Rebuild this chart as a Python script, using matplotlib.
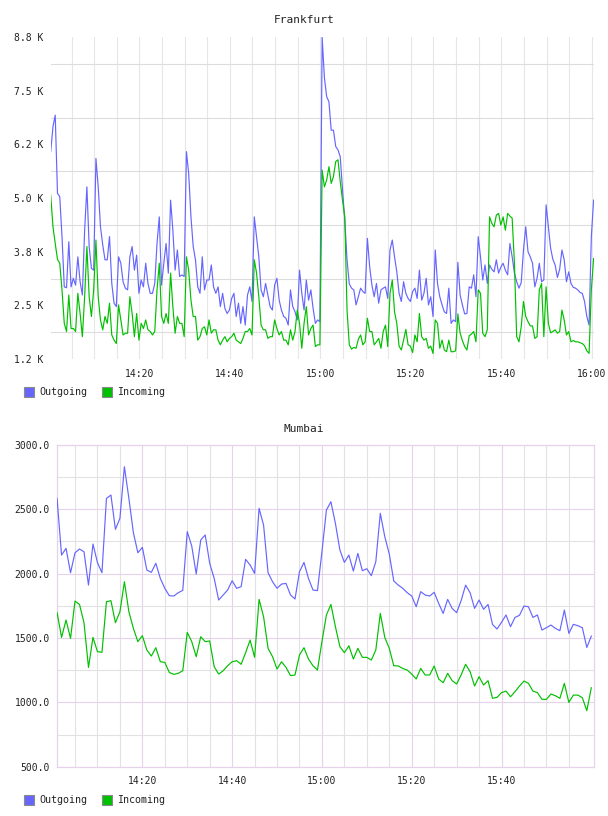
import numpy as np
import matplotlib
matplotlib.use('Agg')
import matplotlib.pyplot as plt
from matplotlib.patches import Rectangle

plt.rcParams['font.family'] = ['DejaVu Sans Mono']

blue = '#6666ff'
green = '#00c000'
grid_grey = '#e2e2e2'
grid_pink = '#e6d2ea'
text_col = '#222222'

# Frankfurt: samples every 30 s, values in K
fra_start_min = 0.4
fra_step_min = 0.5
fra_out = [6.08, 6.66, 6.93, 5.11, 5.03, 4.10, 2.93, 2.91, 3.98, 2.93,
           3.13, 2.97, 3.63, 3.05, 2.74, 4.25, 5.26, 3.87, 3.36, 3.32,
           5.92, 5.26, 4.33, 3.91, 3.56, 3.56, 4.10, 3.01, 2.55, 2.47,
           3.63, 3.48, 3.05, 2.90, 2.86, 3.63, 3.87, 3.32, 3.67, 2.78,
           3.09, 2.93, 3.48, 3.01, 2.78, 2.78, 3.01, 3.94, 4.56, 2.97,
           3.48, 3.94, 3.25, 4.95, 4.25, 3.32, 3.79, 3.17, 3.21, 3.17,
           6.08, 5.57, 4.56, 3.87, 3.56, 2.93, 2.78, 3.63, 2.86, 3.09,
           3.09, 3.44, 2.93, 2.78, 2.93, 2.47, 2.78, 2.43, 2.31, 2.39,
           2.66, 2.78, 2.24, 2.55, 2.08, 2.47, 2.04, 2.74, 2.93, 2.59,
           4.56, 4.10, 3.63, 2.86, 2.70, 3.01, 2.74, 2.47, 2.39, 2.97,
           3.13, 2.62, 2.39, 2.24, 2.20, 2.04, 2.86, 2.47, 2.35, 2.16,
           3.32, 2.78, 2.39, 3.09, 2.62, 2.86, 2.43, 2.08, 2.16, 2.12,
           8.74, 7.80, 7.36, 7.24, 6.58, 6.58, 6.20, 6.12, 5.96, 5.19,
           4.49, 3.56, 3.00, 2.90, 2.86, 2.51, 2.70, 2.90, 2.82, 2.78,
           4.06, 3.40, 2.97, 2.70, 3.01, 2.55, 2.86, 2.90, 2.93, 2.66,
           3.79, 4.02, 3.63, 3.28, 2.78, 2.59, 3.05, 2.78, 2.66, 2.59,
           2.82, 2.90, 2.66, 3.32, 2.62, 2.78, 3.13, 2.51, 2.70, 2.24,
           3.79, 3.01, 2.70, 2.51, 2.35, 2.31, 2.90, 2.08, 2.16, 2.12,
           3.50, 2.74, 2.51, 2.30, 2.31, 2.93, 2.90, 3.21, 2.70, 4.10,
           3.63, 3.09, 3.44, 3.01, 3.44, 3.34, 3.28, 3.56, 3.25, 3.39,
           3.48, 3.32, 3.21, 3.94, 3.63, 3.25, 3.05, 2.90, 3.03, 3.79,
           4.33, 3.75, 3.63, 3.48, 2.93, 3.13, 3.48, 3.05, 3.09, 4.84,
           4.33, 3.83, 3.57, 3.44, 3.15, 3.34, 3.79, 3.56, 3.05, 3.28,
           3.01, 2.92, 2.90, 2.86, 2.80, 2.78, 2.59, 2.24, 2.04, 4.10,
           4.95]
fra_in = [5.07, 4.33, 3.94, 3.57, 3.48, 2.86, 2.08, 1.89, 2.74, 1.96,
          1.96, 1.89, 2.78, 2.31, 1.77, 2.70, 3.87, 2.70, 2.24, 2.86,
          4.02, 2.70, 2.16, 1.93, 2.24, 2.08, 2.55, 1.81, 1.69, 1.61,
          2.51, 2.16, 1.81, 1.85, 1.85, 2.70, 2.31, 1.77, 2.31, 1.69,
          2.08, 1.96, 2.16, 1.93, 1.89, 1.81, 1.89, 2.86, 3.48, 2.24,
          2.08, 2.31, 2.08, 3.25, 2.47, 1.85, 2.24, 2.08, 2.08, 1.77,
          3.63, 3.32, 2.62, 2.24, 2.24, 1.69, 1.77, 1.96, 2.00, 1.81,
          2.16, 1.85, 1.93, 1.93, 1.69, 1.58, 1.69, 1.77, 1.65, 1.73,
          1.77, 1.85, 1.69, 1.65, 1.61, 1.73, 1.89, 1.89, 1.96, 1.81,
          3.56, 3.25, 2.70, 2.04, 1.93, 1.93, 1.73, 1.77, 1.77, 2.16,
          1.96, 1.81, 1.89, 1.69, 1.69, 1.58, 1.93, 1.69, 1.89, 2.39,
          2.08, 1.50, 2.08, 2.47, 1.81, 1.96, 2.04, 1.54, 1.58, 1.58,
          5.65, 5.26, 5.42, 5.73, 5.34, 5.50, 5.85, 5.89, 5.38, 4.95,
          4.56, 2.39, 1.58, 1.48, 1.52, 1.50, 1.71, 1.81, 1.58, 1.65,
          2.20, 1.89, 1.89, 1.58, 1.65, 1.73, 1.50, 1.89, 2.04, 1.54,
          2.78, 3.09, 2.35, 2.08, 1.55, 1.46, 1.69, 1.94, 1.58, 1.55,
          1.40, 1.81, 1.65, 2.31, 1.77, 1.69, 1.73, 1.50, 1.55, 1.38,
          2.16, 2.08, 1.50, 1.69, 1.46, 1.42, 1.69, 1.42, 1.42, 1.44,
          2.30, 1.85, 1.68, 1.54, 1.46, 1.79, 1.83, 1.89, 1.65, 2.86,
          2.78, 1.85, 1.77, 1.93, 4.56, 4.41, 4.33, 4.60, 4.64, 4.37,
          4.56, 4.25, 4.64, 4.58, 4.53, 3.48, 1.77, 1.65, 2.00, 2.59,
          2.24, 2.12, 2.02, 2.02, 1.73, 1.77, 2.86, 3.01, 1.77, 2.93,
          2.08, 1.86, 1.89, 1.93, 1.85, 1.89, 2.39, 2.16, 1.81, 1.89,
          1.65, 1.68, 1.65, 1.65, 1.63, 1.61, 1.56, 1.44, 1.38, 2.86,
          3.59]
fra_yticks = [1.25, 2.5, 3.75, 5.0, 6.25, 7.5, 8.75]
fra_ylabels = ['1.2 K', '2.5 K', '3.8 K', '5.0 K', '6.2 K', '7.5 K', '8.8 K']
fra_xticks = [20, 40, 60, 80, 100, 120]
fra_xlabels = ['14:20', '14:40', '15:00', '15:20', '15:40', '16:00']

# Mumbai: one sample a minute from 14:01
mum_minutes = list(range(1, 121))
mum_out = [2583, 2143, 2195, 2006, 2161, 2190, 2169, 1910, 2229, 2084,
           2006, 2583, 2609, 2343, 2428, 2829, 2583, 2317, 2161, 2203,
           2027, 2009, 2079, 1962, 1885, 1828, 1825, 1851, 1869, 2325,
           2213, 1996, 2260, 2299, 2079, 1962, 1794, 1833, 1872, 1944,
           1885, 1898, 2110, 2066, 2001, 2506, 2376, 2006, 1936, 1885,
           1918, 1923, 1833, 1802, 2014, 2086, 1962, 1872, 1867, 2169,
           2493, 2557, 2389, 2182, 2086, 2143, 2019, 2156, 2022, 2037,
           1983, 2092, 2467, 2286, 2151, 1942, 1910, 1885, 1851, 1825,
           1742, 1859, 1833, 1825, 1854, 1768, 1690, 1799, 1729, 1696,
           1789, 1910, 1851, 1729, 1794, 1722, 1760, 1604, 1569, 1621,
           1678, 1587, 1659, 1675, 1747, 1742, 1659, 1678, 1561, 1579,
           1600, 1574, 1556, 1716, 1535, 1605, 1595, 1579, 1426, 1514]
mum_in = [1698, 1504, 1639, 1496, 1786, 1760, 1618, 1271, 1504, 1393,
          1388, 1781, 1789, 1618, 1703, 1936, 1703, 1574, 1471, 1517,
          1406, 1359, 1424, 1315, 1310, 1232, 1217, 1225, 1245, 1543,
          1471, 1354, 1509, 1471, 1476, 1276, 1219, 1245, 1284, 1315,
          1323, 1295, 1385, 1483, 1349, 1799, 1665, 1419, 1354, 1258,
          1315, 1271, 1207, 1212, 1367, 1424, 1336, 1284, 1250, 1471,
          1678, 1760, 1587, 1432, 1385, 1439, 1336, 1419, 1349, 1349,
          1328, 1406, 1690, 1504, 1419, 1284, 1282, 1263, 1250, 1219,
          1181, 1263, 1212, 1212, 1282, 1181, 1152, 1225, 1168, 1142,
          1212, 1295, 1238, 1126, 1199, 1134, 1168, 1031, 1038, 1075,
          1087, 1043, 1082, 1126, 1165, 1147, 1087, 1075, 1023, 1023,
          1064, 1051, 1031, 1147, 999, 1056, 1056, 1036, 935, 1113]
mum_yticks = [500, 1000, 1500, 2000, 2500, 3000]
mum_ylabels = ['500.0', '1000.0', '1500.0', '2000.0', '2500.0', '3000.0']
mum_xticks = [20, 40, 60, 80, 100]
mum_xlabels = ['14:20', '14:40', '15:00', '15:20', '15:40']

W, H = 608, 816
fig = plt.figure(figsize=(W / 100, H / 100), dpi=100)


def legend_at(y):
    for x0, col, lab in [(24, blue, 'Outgoing'), (102, green, 'Incoming')]:
        fig.add_artist(Rectangle((x0 / W, 1 - (y + 5) / H), 10 / W, 10 / H,
                                 transform=fig.transFigure, facecolor=col,
                                 edgecolor='#8a8a8a', linewidth=0.8))
        fig.text((x0 + 15) / W, 1 - y / H, lab, fontsize=7.2, color=text_col,
                 va='center', ha='left')


# Frankfurt
ax = fig.add_axes([50.7 / W, 1 - 359 / H, 542.9 / W, 322 / H])
fra_t = fra_start_min + fra_step_min * np.arange(len(fra_out))
ax.plot(fra_t, fra_out, color=blue, lw=0.85, zorder=3)
ax.plot(fra_t, fra_in, color=green, lw=0.85, zorder=3)
ax.set_xlim(0.4, 120.4)
ax.set_ylim(1.25, 8.75)
ax.set_yticks(fra_yticks, fra_ylabels)
ax.set_yticks([(a + b) / 2 for a, b in zip(fra_yticks[:-1], fra_yticks[1:])], minor=True)
ax.set_xticks(fra_xticks, fra_xlabels)
ax.set_xticks([m for m in range(5, 121, 5) if m not in fra_xticks], minor=True)
ax.grid(True, which='both', axis='x', color='#e6e6e6', lw=0.8)
ax.grid(True, which='minor', axis='y', color='#dcdcdc', lw=0.8)
ax.set_axisbelow(True)
for s in ax.spines.values():
    s.set_visible(False)
ax.tick_params(which='both', length=0, labelsize=7, colors=text_col)
ax.tick_params(axis='x', pad=7)
ax.tick_params(axis='y', pad=5)
fig.text(0.5, 1 - 20 / H, 'Frankfurt', ha='center', va='center', fontsize=8, color=text_col)
legend_at(392)

# Mumbai
ax2 = fig.add_axes([56.7 / W, 1 - 766.7 / H, 537.3 / W, 322 / H])
ax2.plot(mum_minutes, mum_out, color=blue, lw=0.85, zorder=3)
ax2.plot(mum_minutes, mum_in, color=green, lw=0.85, zorder=3)
ax2.set_xlim(0.92, 120.6)
ax2.set_ylim(500, 3000)
ax2.set_yticks(mum_yticks, mum_ylabels)
ax2.set_yticks([v + 250 for v in mum_yticks[:-1]], minor=True)
ax2.set_xticks(mum_xticks, mum_xlabels)
ax2.set_xticks([m for m in range(5, 120, 5) if m not in mum_xticks], minor=True)
ax2.grid(True, which='major', color=grid_pink, lw=0.8)
ax2.grid(True, which='minor', color=grid_grey, lw=0.8)
ax2.set_axisbelow(True)
for s in ax2.spines.values():
    s.set_color(grid_pink)
    s.set_linewidth(0.9)
ax2.tick_params(which='both', length=0, labelsize=7, colors=text_col)
ax2.tick_params(axis='x', pad=7)
ax2.tick_params(axis='y', pad=5)
fig.text(0.5, 1 - 429 / H, 'Mumbai', ha='center', va='center', fontsize=8, color=text_col)
legend_at(800)

fig.savefig('out.png', dpi=100)
